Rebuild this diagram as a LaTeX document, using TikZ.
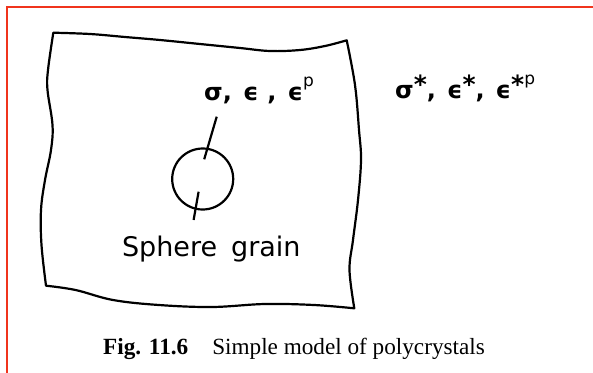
\documentclass[tikz,border=0pt]{standalone}
\usepackage{fontspec}
\newfontfamily\plotfont{DejaVu Sans}
\newfontfamily\capfont{Liberation Serif}
\newcommand\upidx[1]{\raisebox{14pt}{\fontsize{17}{17}\selectfont\mdseries #1}}
\newcommand\upstar{\raisebox{5pt}{\fontsize{25}{25}\selectfont\bfseries *}}
\definecolor{framered}{HTML}{F0341C}
\tikzset{
  frameline/.style={draw=framered, line width=2pt},
  sheet/.style={draw=black, line width=2.2pt, line join=round},
  grain/.style={circle, draw=black, line width=2.2pt, minimum size=61pt, inner sep=0pt},
  leader/.style={draw=black, line width=2.2pt},
  glabel/.style={font=\plotfont\bfseries\fontsize{24}{24}\selectfont, inner sep=0pt, anchor=base west},
  slabel/.style={font=\plotfont\fontsize{27}{27}\selectfont, inner sep=0pt, anchor=base west},
  caption/.style={font=\capfont\fontsize{23.2}{23.2}\selectfont, inner sep=0pt, anchor=base west}
}
\begin{document}
\begin{tikzpicture}[x=1pt,y=-1pt]
\useasboundingbox (0,0) rectangle (593,372);
\fill[white] (0,0) rectangle (593,372);
% red frame
\draw[frameline] (594,7.3) -- (7.3,7.3) -- (7.3,373);
% sheet
\draw[sheet]
  plot[smooth, tension=0.6] coordinates {(53.3,32.7) (90,34) (125,37) (160,40) (200,44) (240,48) (270,51) (300,50) (325,46) (346.7,40.3)}
  -- plot[smooth, tension=0.6] coordinates {(346.7,40.3) (355,85) (359,130) (361,160) (358,200) (353,240) (349.5,270) (354.3,308.3)}
  -- plot[smooth, tension=0.6] coordinates {(354.3,308.3) (314,305) (265,304) (212,307) (159,305) (113,300) (75.6,290) (46,285.7)}
  -- plot[smooth, tension=0.6] coordinates {(46,285.7) (41.5,245) (41,210) (45,180) (51,150) (52.5,125) (47.5,90) (48,70) (53.3,32.7)}
  -- cycle;
% grain
\node[grain] (g) at (202.7,179) {};
\coordinate (t1) at (216.7,116.7);
\coordinate (t2) at (204.2,159.3);
\coordinate (b1) at (198.6,191.7);
\coordinate (b2) at (193.6,220);
\draw[leader] (t1) -- (t2);
\draw[leader] (b1) -- (b2);
% labels
\node[glabel] (inner) at (204,100) {σ,\hspace{11pt}ϵ\hspace{9pt},\hspace{11pt}ϵ\upidx{p}};
\node[glabel] (outer) at (395,98) {σ\upstar,\hspace{11pt}ϵ\upstar,\hspace{11pt}ϵ\upstar\upidx{p}};
\node[slabel] (sg) at (121.8,256.7) {Sphere\hspace{14pt}grain};
\node[caption] (cap) at (103,354) {\textbf{Fig. 11.6}\hspace{24pt}Simple model of polycrystals};
\end{tikzpicture}
\end{document}
